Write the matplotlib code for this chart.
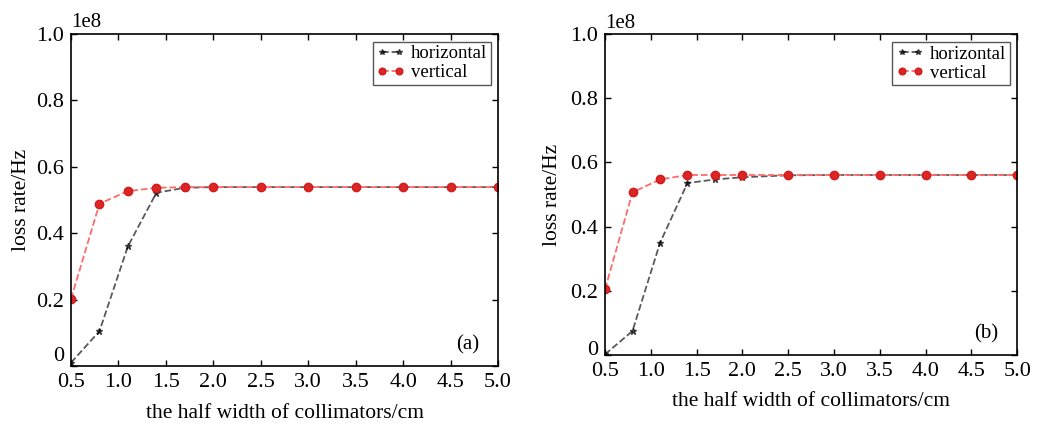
import matplotlib
matplotlib.use("Agg")
import matplotlib.pyplot as plt
from matplotlib.ticker import FixedLocator, FixedFormatter

plt.rcParams['font.family'] = ['Liberation Serif', 'DejaVu Serif']

# half width of collimators (cm)
width_cm = [0.5, 0.8, 1.1, 1.4, 1.7, 2.0, 2.5, 3.0, 3.5, 4.0, 4.5, 5.0]

# loss rate (Hz), panel (a)
horiz_a = [0.01e8, 0.105e8, 0.361e8, 0.522e8, 0.537e8, 0.539e8,
           0.539e8, 0.539e8, 0.539e8, 0.539e8, 0.539e8, 0.539e8]
vert_a = [0.202e8, 0.489e8, 0.527e8, 0.537e8, 0.539e8, 0.539e8,
          0.539e8, 0.539e8, 0.539e8, 0.539e8, 0.539e8, 0.539e8]

# loss rate (Hz), panel (b)
horiz_b = [0.002e8, 0.075e8, 0.349e8, 0.536e8, 0.547e8, 0.554e8,
           0.560e8, 0.561e8, 0.561e8, 0.561e8, 0.561e8, 0.561e8]
vert_b = [0.205e8, 0.507e8, 0.547e8, 0.561e8, 0.561e8, 0.561e8,
          0.561e8, 0.561e8, 0.561e8, 0.561e8, 0.561e8, 0.561e8]

xticks = [0.5, 1.0, 1.5, 2.0, 2.5, 3.0, 3.5, 4.0, 4.5, 5.0]
yticks = [0, 0.2e8, 0.4e8, 0.6e8, 0.8e8, 1.0e8]
ytick_labels = ['0', '0.2', '0.4', '0.6', '0.8', '1.0']


def draw_panel(ax, horiz, vert, tag, zero_va):
    ax.plot(width_cm, horiz, '--', color='k', alpha=0.65, lw=1.3,
            marker='*', markersize=5, markerfacecolor='k',
            markeredgecolor='k', label='horizontal')
    ax.plot(width_cm, vert, '--', color='#ff6a6a', lw=1.3,
            marker='o', markersize=6, markerfacecolor='#dc2626',
            markeredgecolor='#d01c1c', label='vertical')

    ax.set_xlim(0.5, 5.0)
    ax.set_ylim(0, 1.0e8)
    ax.xaxis.set_major_locator(FixedLocator(xticks))
    ax.set_xticklabels(['%.1f' % v for v in xticks])
    ax.yaxis.set_major_locator(FixedLocator(yticks))
    ax.yaxis.set_major_formatter(FixedFormatter(ytick_labels))
    ax.tick_params(direction='in', top=True, right=True, length=4,
                   width=1, labelsize=16, pad=5)
    for sp in ax.spines.values():
        sp.set_linewidth(1.2)
    # the "0" label sits a little above its tick
    ax.get_yticklabels()[0].set_va(zero_va)

    ax.text(0.0, 1.005, '1e8', transform=ax.transAxes, fontsize=15,
            ha='left', va='bottom')
    ax.text(0.955, 0.035, tag, transform=ax.transAxes, fontsize=15,
            ha='right', va='bottom')

    ax.set_xlabel('the half width of collimators/cm', fontsize=15.5)
    ax.set_ylabel('loss rate/Hz', fontsize=15.5)
    leg = ax.legend(loc='upper right', fontsize=13.5, numpoints=2,
                    handlelength=1.5, handletextpad=0.3, borderpad=0.2,
                    labelspacing=0.1, fancybox=False, framealpha=1,
                    borderaxespad=0.4, markerscale=0.8)
    leg.get_frame().set_edgecolor('#555555')
    leg.get_frame().set_linewidth(1.0)


fig = plt.figure(figsize=(10.38, 4.25), dpi=100)
ax_a = fig.add_axes([0.0684, 0.1388, 0.4114, 0.781])
ax_b = fig.add_axes([0.5829, 0.1647, 0.397, 0.755])

draw_panel(ax_a, horiz_a, vert_a, '(a)', 'bottom')
draw_panel(ax_b, horiz_b, vert_b, '(b)', 'baseline')

ax_a.xaxis.labelpad = 9
ax_b.xaxis.labelpad = 8
ax_a.yaxis.labelpad = 4
ax_b.yaxis.labelpad = 6

plt.savefig('out.png', dpi=100)
